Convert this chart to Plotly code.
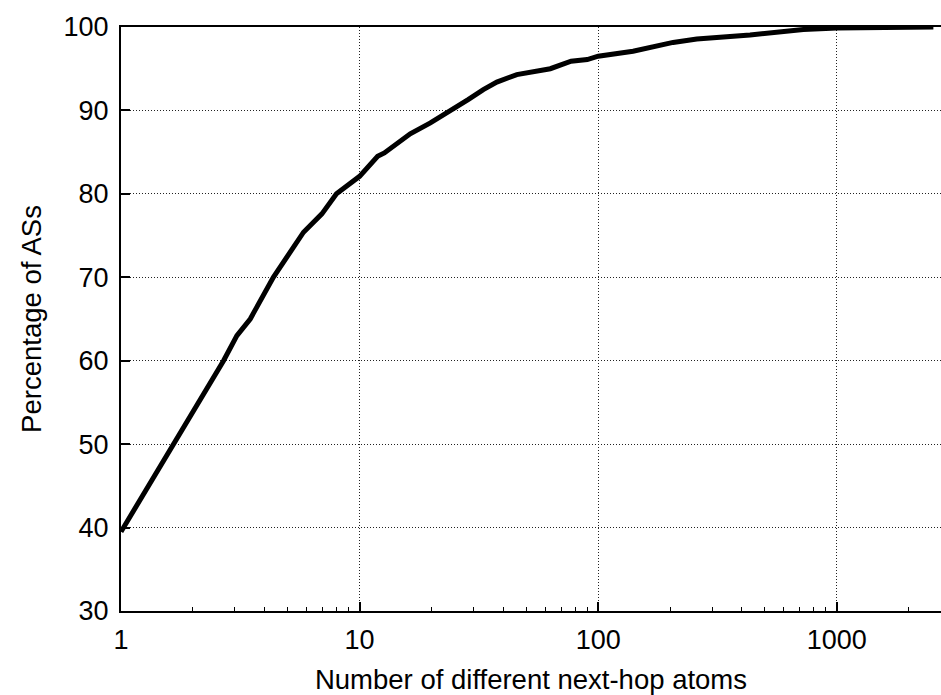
import plotly.graph_objects as go
import numpy as np

# Data (CDF of number of next-hop atoms per AS)
next_hop_atoms = [1, 1.66, 2.69, 3.06, 3.48, 4.35, 5.82, 6.95, 8.0, 10, 11.9, 12.7,
                  16.3, 19.8, 24.0, 28.5, 33, 37.6, 45.6, 57, 63, 77, 90, 100, 140,
                  206, 259, 433, 724, 1000, 2540]
percentage_ases = [39.5, 50, 60, 63, 65, 70, 75.4, 77.6, 80, 82.1, 84.5, 84.9,
                   87.2, 88.5, 89.9, 91.3, 92.5, 93.4, 94.3, 94.8, 95.0, 95.9, 96.1, 96.5, 97.1,
                   98.15, 98.55, 99.05, 99.7, 99.88, 100]

x_tick_vals = [1, 10, 100, 1000]
x_tick_text = ["1", "10", "100", "1000"]
x_minor_vals = [m * d for d in (1, 10, 100, 1000) for m in range(2, 10)]
y_tick_vals = [30, 40, 50, 60, 70, 80, 90, 100]

FONT = "Liberation Sans, Arial, Helvetica, sans-serif"

fig = go.Figure()
fig.add_trace(go.Scatter(
    x=next_hop_atoms, y=percentage_ases, mode="lines",
    line=dict(color="black", width=5), showlegend=False,
))

fig.update_layout(
    width=941, height=695,
    margin=dict(l=121, r=0, t=27, b=82),
    paper_bgcolor="white", plot_bgcolor="white",
    font=dict(family=FONT, size=27, color="black"),
)

fig.update_xaxes(
    type="log", range=[0, np.log10(2734)],
    tickmode="array", tickvals=x_tick_vals, ticktext=x_tick_text,
    ticks="inside", ticklen=9, tickwidth=1.5, tickcolor="black",
    minor=dict(tickmode="array", tickvals=x_minor_vals, ticks="inside",
               ticklen=4, tickwidth=1, tickcolor="black", showgrid=False),
    showgrid=True, gridcolor="#222", griddash="1px,2px", gridwidth=1,
    showline=True, linecolor="black", linewidth=2, mirror=True,
    zeroline=False, ticklabelstandoff=4,
    title=dict(text="Number of different next-hop atoms", standoff=20,
               font=dict(size=27.5)),
    tickfont=dict(size=27),
)
fig.update_yaxes(
    range=[30, 100], tickmode="array", tickvals=y_tick_vals,
    ticks="inside", ticklen=9, tickwidth=1.5, tickcolor="black",
    showgrid=True, gridcolor="#222", griddash="1px,2px", gridwidth=1,
    showline=True, linecolor="black", linewidth=2,
    zeroline=False, ticklabelstandoff=5,
    title=dict(text="Percentage of ASs", standoff=14, font=dict(size=27.5)),
    tickfont=dict(size=27),
)

fig.write_html("out.html")
